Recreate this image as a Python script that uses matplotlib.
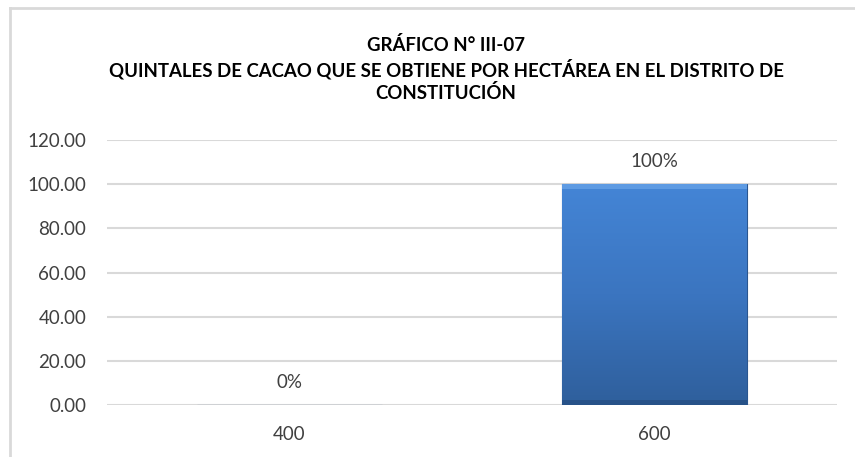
import numpy as np
import matplotlib
matplotlib.use('Agg')
import matplotlib.pyplot as plt
from matplotlib.lines import Line2D

# data
categories = ['400' , '600']
values = [0.0 , 100.0]
labels = ['0%' , '100%']
yticks = [0 , 20 , 40 , 60 , 80 , 100 , 120]
title = 'GRÁFICO N° III-07\nQUINTALES DE CACAO QUE SE OBTIENE POR HECTÁREA EN EL DISTRITO DE\nCONSTITUCIÓN'

plt.rcParams['font.family'] = ['Lato' , 'DejaVu Sans']

def main():
    W , H = 855 , 457
    fig = plt.figure(figsize = [W / 100 , H / 100] , dpi = 100)
    ax = fig.add_axes([107 / W , 1 - 405 / H , 730 / W , 265 / H])

    x = np.arange(len(categories))
    bars = ax.bar(x , values , width = 0.505 , color = '#3a74c2' , edgecolor = '#2a5690' , linewidth = 0.8 , zorder = 3)

    # vertical gradient inside each bar
    grad = np.linspace(0 , 1 , 256).reshape(-1 , 1)
    cmap = matplotlib.colors.LinearSegmentedColormap.from_list('bar' , ['#2f5f9c' , '#3b75c0' , '#4485d6'])
    for b in bars:
        if b.get_height() <= 0:
            continue
        x0 , w , h = b.get_x() , b.get_width() , b.get_height()
        im = ax.imshow(grad , extent = [x0 , x0 + w , 0 , h] , origin = 'lower' , cmap = cmap ,
                       aspect = 'auto' , zorder = 4)
        im.set_clip_path(b)
        # bevel highlights
        ax.fill_between([x0 , x0 + w] , h - 2.2 , h , color = '#6aa5ea' , alpha = 0.7 , zorder = 5 , linewidth = 0)
        ax.fill_between([x0 , x0 + w] , 0 , 2.2 , color = '#234a7c' , alpha = 0.6 , zorder = 5 , linewidth = 0)

    for xi , v , lab in zip(x , values , labels):
        ax.annotate(lab , (xi , v) , xytext = (0 , 16) , textcoords = 'offset points' ,
                    ha = 'center' , va = 'center' , fontsize = 13.5 , color = '#404040')

    ax.set_xlim(-0.5 , 1.5)
    ax.set_ylim(0 , 120)
    ax.set_yticks(yticks)
    ax.set_yticklabels([f'{t:.2f}' for t in yticks])
    ax.set_xticks(x)
    ax.set_xticklabels(categories)
    ax.tick_params(axis = 'y' , length = 0 , pad = 15 , labelsize = 13.5 , labelcolor = '#404040')
    ax.tick_params(axis = 'x' , length = 0 , pad = 15 , labelsize = 13.5 , labelcolor = '#404040')
    ax.grid(axis = 'y' , color = '#d9d9d9' , linewidth = 1.5 , zorder = 0)
    ax.set_axisbelow(True)
    for s in ax.spines.values():
        s.set_visible(False)

    fig.text(446 / W , 1 - 69 / H , title , ha = 'center' , va = 'center' , fontsize = 13.4 ,
             fontweight = 'bold' , color = '#000000' , linespacing = 1.32)

    # chart border (top and left visible)
    fig.add_artist(Line2D([10 / W , 1] , [1 - 8 / H , 1 - 8 / H] , color = '#d9d9d9' , linewidth = 2))
    fig.add_artist(Line2D([10 / W , 10 / W] , [0 , 1 - 8 / H] , color = '#d9d9d9' , linewidth = 2))

    fig.savefig('out.png' , dpi = 100)

if __name__ == '__main__':
    main()
